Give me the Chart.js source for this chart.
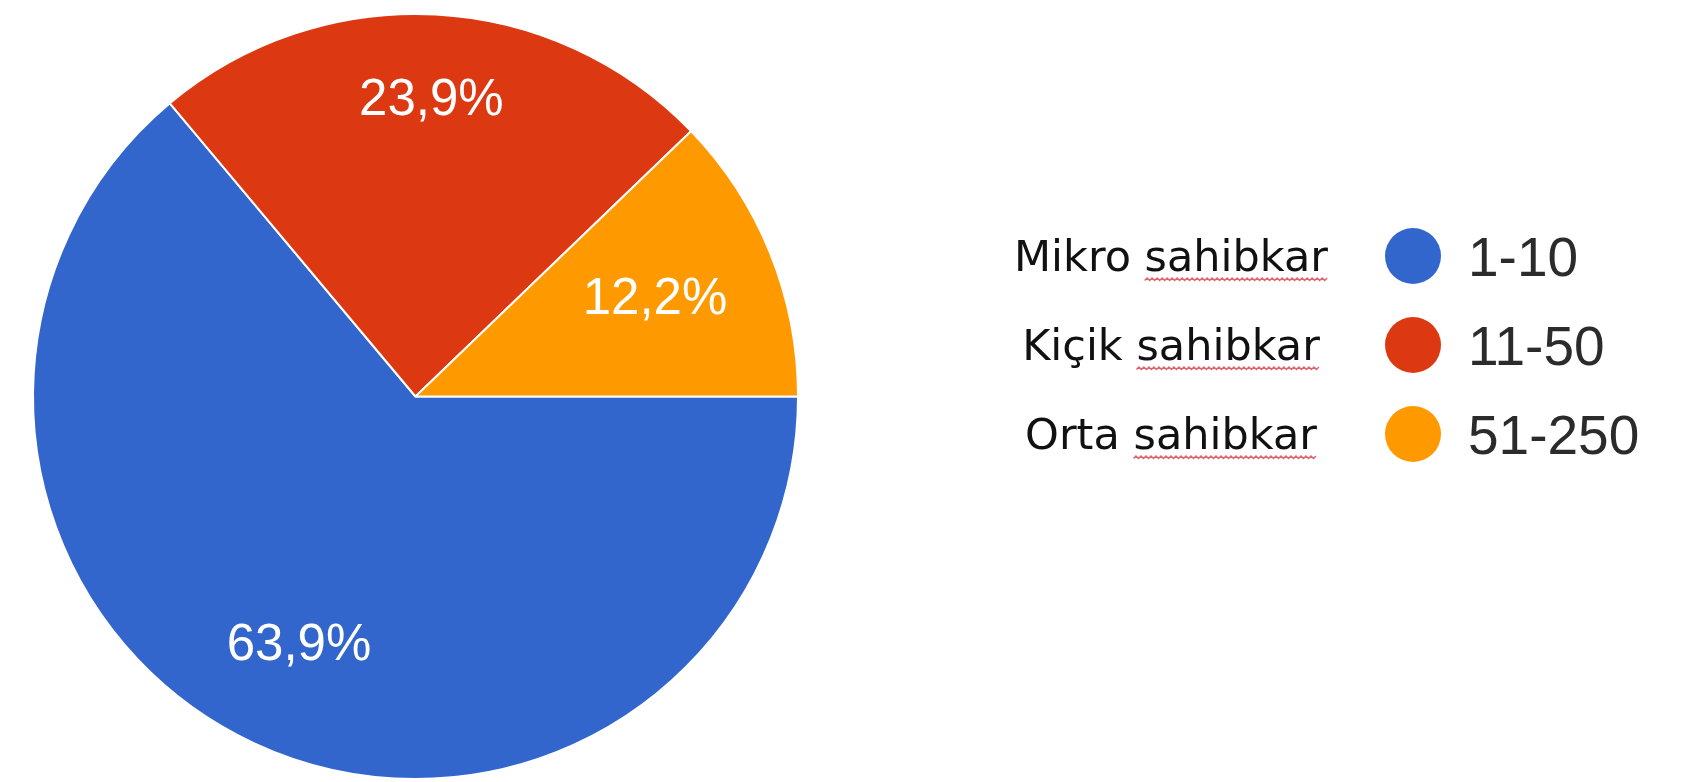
<!DOCTYPE html>
<html>
<head>
<meta charset="utf-8">
<script src="https://cdn.jsdelivr.net/npm/chart.js@4/dist/chart.umd.min.js"></script>
<style>
  html, body { margin: 0; padding: 0; background: #fff; }
  #wrap { width: 1683px; height: 782px; position: relative; }
</style>
</head>
<body>
<div id="wrap"><canvas id="pie"></canvas></div>
<script>
// data
const categories = ['Mikro sahibkar', 'Kiçik sahibkar', 'Orta sahibkar'];
const ranges = ['1-10', '11-50', '51-250'];
const shares = [63.9, 23.9, 12.2];

const sliceColors = ['#3366cc', '#dc3912', '#ff9900'];

function pct(v) {
  return v.toFixed(1).replace('.', ',') + '%';
}

// percent labels inside the slices
const sliceLabels = {
  id: 'sliceLabels',
  afterDatasetsDraw(chart, args, opts) {
    const ctx = chart.ctx;
    const meta = chart.getDatasetMeta(0);
    ctx.save();
    ctx.font = '51px "Liberation Sans", Arial, sans-serif';
    ctx.fillStyle = '#fff';
    ctx.textAlign = 'center';
    ctx.textBaseline = 'middle';
    meta.data.forEach((arc, i) => {
      const mid = (arc.startAngle + arc.endAngle) / 2;
      const r = arc.outerRadius * opts.dist[i];
      ctx.fillText(pct(shares[i]), arc.x + Math.cos(mid) * r, arc.y + Math.sin(mid) * r);
    });
    ctx.restore();
  }
};

// two column legend on the right
const sideLegend = {
  id: 'sideLegend',
  afterDraw(chart, args, opts) {
    const ctx = chart.ctx;
    const ds = chart.data.datasets[0];
    ctx.save();
    categories.forEach((name, i) => {
      const cy = opts.top + i * opts.step;

      // category name, centred
      ctx.font = '43px "DejaVu Sans", sans-serif';
      ctx.fillStyle = '#111';
      ctx.textAlign = 'left';
      ctx.textBaseline = 'alphabetic';
      const w = ctx.measureText(name).width;
      const x0 = opts.nameCenter - w / 2;
      const base = cy + 15;
      ctx.fillText(name, x0, base);

      // spell-check squiggle under the second word
      const firstWord = name.split(' ')[0] + ' ';
      const sx = x0 + ctx.measureText(firstWord).width;
      const ex = x0 + w;
      ctx.beginPath();
      ctx.strokeStyle = 'rgba(220,60,75,0.8)';
      ctx.lineWidth = 1.5;
      let up = true;
      ctx.moveTo(sx, base + 9.5);
      for (let x = sx + 2.5; x <= ex; x += 2.5) {
        ctx.lineTo(x, base + (up ? 7 : 9.5));
        up = !up;
      }
      ctx.stroke();

      // marker
      ctx.beginPath();
      ctx.fillStyle = ds.backgroundColor[i];
      ctx.arc(opts.dotX, cy, 28, 0, Math.PI * 2);
      ctx.fill();

      // range text
      ctx.font = '55px "Liberation Sans", Arial, sans-serif';
      ctx.fillStyle = '#2b2b2b';
      ctx.fillText(ranges[i], opts.rangeX, cy + 20);
    });
    ctx.restore();
  }
};

new Chart(document.getElementById('pie'), {
  type: 'pie',
  data: {
    labels: ranges,
    datasets: [{
      data: shares,
      backgroundColor: sliceColors,
      borderColor: '#fff',
      borderWidth: 2
    }]
  },
  options: {
    responsive: true,
    maintainAspectRatio: false,
    animation: false,
    rotation: 90,
    layout: { padding: { left: 32, top: 12, right: 884, bottom: 1 } },
    plugins: {
      legend: { display: false },
      tooltip: { enabled: false },
      sliceLabels: { dist: [0.72, 0.775, 0.675] },
      sideLegend: { top: 256, step: 89, nameCenter: 1171, dotX: 1413, rangeX: 1468 }
    }
  },
  plugins: [sliceLabels, sideLegend]
});
</script>
</body>
</html>
